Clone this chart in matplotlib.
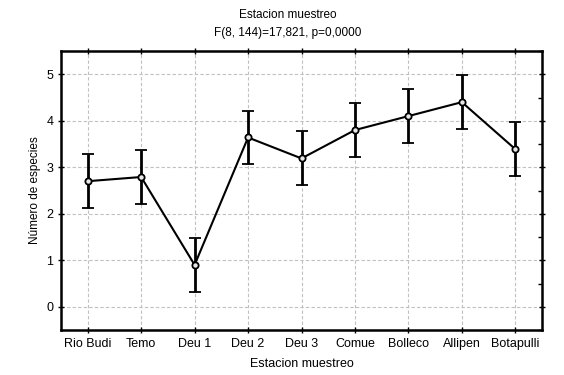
import matplotlib.pyplot as plt
import numpy as np

plt.rcParams['font.family'] = ['Liberation Sans', 'DejaVu Sans']

estaciones = ['Rio Budi', 'Temo', 'Deu 1', 'Deu 2', 'Deu 3',
              'Comue', 'Bolleco', 'Allipen', 'Botapulli']
medias = [2.70, 2.79, 0.90, 3.64, 3.19, 3.80, 4.10, 4.40, 3.39]
error = [0.58] * len(estaciones)

x = np.arange(len(estaciones))

fig = plt.figure(figsize=(5.64, 3.75), dpi=100)
ax = fig.add_axes([61 / 564, 1 - 330 / 375, 481 / 564, 279 / 375])

ax.errorbar(x, medias, yerr=error, color='black', linewidth=1.5,
            elinewidth=2, capsize=4, capthick=2, marker='o',
            markersize=4.5, markerfacecolor='#e8e8e8',
            markeredgecolor='black', markeredgewidth=1.3, zorder=3)

ax.set_xlim(-0.5, 8.5)
ax.set_ylim(-0.5, 5.5)
ax.set_xticks(x)
ax.set_xticklabels(estaciones, fontsize=9)
ax.set_yticks(range(0, 6))
ax.tick_params(axis='y', labelsize=9)
ax.set_yticks(np.arange(-0.5, 5.6, 0.5), minor=True)
ax.tick_params(which='major', direction='inout', length=4, width=1,
               top=True, right=True)
ax.tick_params(which='minor', direction='in', length=3, width=1,
               left=False, right=True)

ax.grid(True, which='major', linestyle=(0, (3, 2)), color='#c0c0c0',
        linewidth=0.8)

for s in ax.spines.values():
    s.set_linewidth(1.8)

ax.set_xlabel('Estacion muestreo', fontsize=9, labelpad=6)
ax.set_ylabel('Número de especies', fontsize=8.5, labelpad=4)

fig.text(288 / 564, 1 - 15 / 375, 'Estacion muestreo', ha='center',
         va='center', fontsize=8.5)
fig.text(288 / 564, 1 - 33 / 375, 'F(8, 144)=17,821, p=0,0000',
         ha='center', va='center', fontsize=8.5)

fig.savefig('out.png', dpi=100)
